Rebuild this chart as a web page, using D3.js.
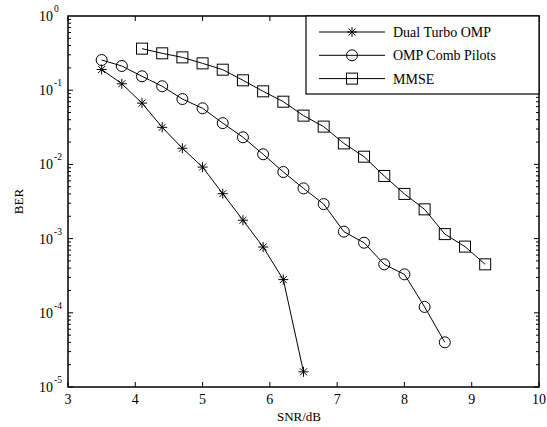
<!DOCTYPE html>
<html><head><meta charset="utf-8">
<script src="https://cdn.jsdelivr.net/npm/d3@7"></script>
<style>body{margin:0;background:#fff}svg{display:block}</style>
</head><body><div id="c"></div>
<script>
const snrTurbo = [3.5,3.8,4.1,4.4,4.7,5.0,5.3,5.6,5.9,6.2,6.5];
const berTurbo = [0.19,0.122,0.067,0.0316,0.0165,0.0092,0.00403,0.00177,0.00077,0.00028,1.6e-5];
const snrComb = [3.5,3.8,4.1,4.4,4.7,5.0,5.3,5.6,5.9,6.2,6.5,6.8,7.1,7.4,7.7,8.0,8.3,8.6];
const berComb = [0.255,0.212,0.154,0.113,0.076,0.057,0.036,0.0232,0.0137,0.0079,0.00475,0.00292,0.00124,0.00088,0.00045,0.00033,0.00012,4.0e-5];
const snrMmse = [4.1,4.4,4.7,5.0,5.3,5.6,5.9,6.2,6.5,6.8,7.1,7.4,7.7,8.0,8.3,8.6,8.9,9.2];
const berMmse = [0.363,0.314,0.277,0.23,0.189,0.136,0.0966,0.070,0.0454,0.0323,0.0192,0.0127,0.00698,0.0040,0.00248,0.00115,0.00078,0.00045];
const seriesNames = ["Dual Turbo OMP","OMP Comb Pilots","MMSE"];
const xTicks = [3,4,5,6,7,8,9,10];
const yExps = [0,-1,-2,-3,-4,-5];

const W=547,H=427, L=68,R=539,T=16,B=387;
const FONT="'Liberation Serif','Times New Roman',Times,'DejaVu Serif',serif";
const svg=d3.select("#c").append("svg").attr("width",W).attr("height",H)
  .attr("font-family",FONT);
const x=d3.scaleLinear().domain([3,10]).range([L,R]);
const y=d3.scaleLog().domain([1e-5,1]).range([B,T]);

// ticks
const g=svg.append("g").attr("stroke","#000").attr("stroke-width",1);
xTicks.forEach(v=>{
  g.append("line").attr("x1",x(v)).attr("x2",x(v)).attr("y1",B).attr("y2",B-5);
  g.append("line").attr("x1",x(v)).attr("x2",x(v)).attr("y1",T).attr("y2",T+5);
});
for(let e=-5;e<0;e++){
  for(let m=1;m<10;m++){
    const v=m*Math.pow(10,e), len=m===1?5:3;
    g.append("line").attr("x1",L).attr("x2",L+len).attr("y1",y(v)).attr("y2",y(v));
    g.append("line").attr("x1",R).attr("x2",R-len).attr("y1",y(v)).attr("y2",y(v));
  }
}
svg.append("rect").attr("x",L).attr("y",T).attr("width",R-L).attr("height",B-T)
  .attr("fill","none").attr("stroke","#000").attr("stroke-width",1.5);

// tick labels
xTicks.forEach(v=>{
  svg.append("text").attr("x",x(v)).attr("y",B+17).attr("text-anchor","middle").attr("font-size",14).text(v);
});
yExps.forEach(e=>{
  const yy=y(Math.pow(10,e));
  svg.append("text").attr("x",L-15).attr("y",yy+5).attr("text-anchor","end").attr("font-size",14).text("10");
  svg.append("text").attr("x",L-14).attr("y",yy-4).attr("text-anchor","start").attr("font-size",9.5).text(e);
});
svg.append("text").attr("x",299).attr("y",H-6).attr("text-anchor","middle").attr("font-size",13).text("SNR/dB");
svg.append("text").attr("transform","translate(23,"+((T+B)/2)+") rotate(-90)").attr("text-anchor","middle").attr("font-size",13).text("BER");

// markers
function marker(sel,type,cx,cy){
  if(type===0){
    const s=sel.append("g").attr("stroke","#000").attr("stroke-width",1);
    s.append("line").attr("x1",cx-5).attr("x2",cx+5).attr("y1",cy).attr("y2",cy);
    s.append("line").attr("x1",cx).attr("x2",cx).attr("y1",cy-5).attr("y2",cy+5);
    s.append("line").attr("x1",cx-3.5).attr("x2",cx+3.5).attr("y1",cy-3.5).attr("y2",cy+3.5);
    s.append("line").attr("x1",cx-3.5).attr("x2",cx+3.5).attr("y1",cy+3.5).attr("y2",cy-3.5);
  } else if(type===1){
    sel.append("circle").attr("cx",cx).attr("cy",cy).attr("r",5.5).attr("fill","none").attr("stroke","#000");
  } else {
    sel.append("rect").attr("x",cx-5.5).attr("y",cy-5.5).attr("width",11).attr("height",11).attr("fill","none").attr("stroke","#000");
  }
}
const series=[[snrTurbo,berTurbo],[snrComb,berComb],[snrMmse,berMmse]];
const line=d3.line().x(d=>x(d[0])).y(d=>y(d[1]));
series.forEach((s,i)=>{
  const pts=s[0].map((v,j)=>[v,s[1][j]]);
  svg.append("path").attr("d",line(pts)).attr("fill","none").attr("stroke","#000").attr("stroke-width",1);
  const mg=svg.append("g");
  pts.forEach(p=>marker(mg,i,x(p[0]),y(p[1])));
});

// legend
const lg=svg.append("g");
lg.append("rect").attr("x",306).attr("y",T).attr("width",R-306).attr("height",78).attr("fill","#fff").attr("stroke","#000").attr("stroke-width",1.2);
seriesNames.forEach((n,i)=>{
  const ly=32+i*23.3;
  lg.append("line").attr("x1",319).attr("x2",385).attr("y1",ly).attr("y2",ly).attr("stroke","#000");
  marker(lg,i,352,ly);
  lg.append("text").attr("x",393).attr("y",ly+5).attr("font-size",14).text(n);
});
</script></body></html>
